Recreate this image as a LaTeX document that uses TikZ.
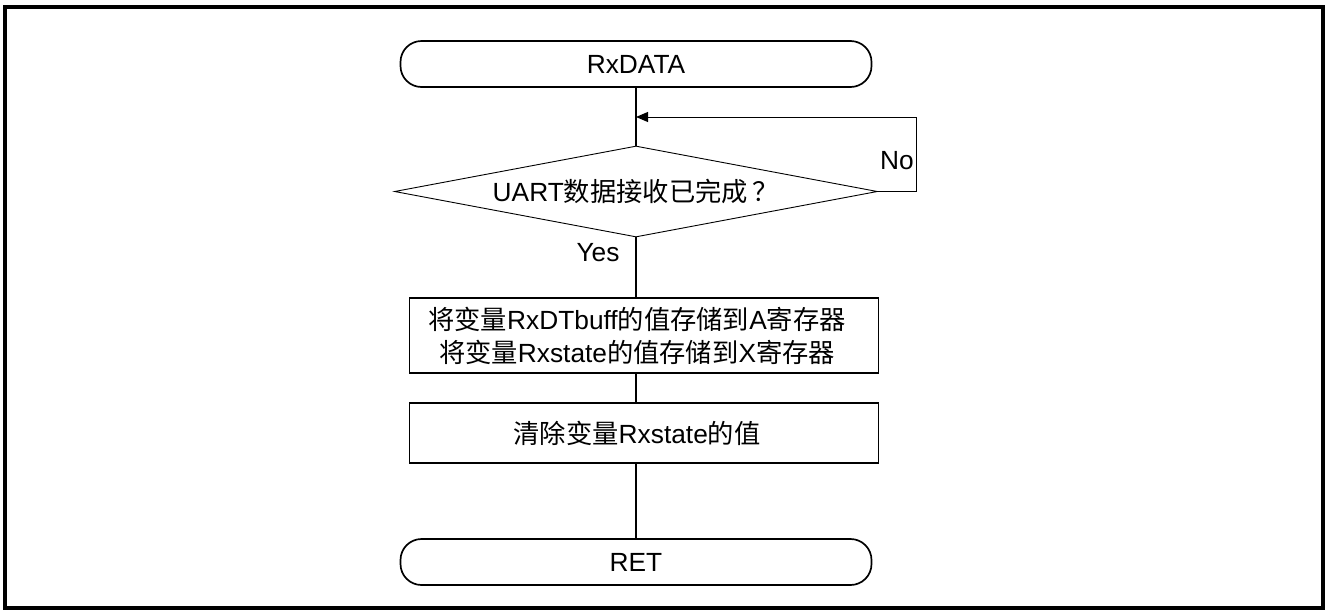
\documentclass[tikz,border=0pt]{standalone}
\usepackage{fontspec}
\setmainfont{Liberation Sans}
\newfontfamily\cjk{Noto Sans CJK SC}
\usetikzlibrary{shapes.geometric,arrows.meta}
\begin{document}
\begin{tikzpicture}[x=1pt,y=-1pt,
  font=\fontsize{26.3}{33}\selectfont,
  term/.style={draw, line width=1.7pt, rounded corners=21pt,
    minimum width=471pt, minimum height=46pt, inner sep=0pt},
  proc/.style={draw, line width=1.7pt, minimum width=469pt,
    inner sep=0pt, align=center},
  dec/.style={draw, line width=0.9pt, diamond, aspect=5.3,
    minimum width=483pt, minimum height=91pt, inner sep=0pt},
  flow/.style={line width=1.4pt},
  back/.style={line width=1pt, -{Triangle[length=12pt,width=10pt]}},
  lbl/.style={inner sep=0pt}]
\useasboundingbox (0,0) rectangle (1328,614);
% outer frame
\draw[line width=3.2pt] (5,7) rectangle (1323,608);

% nodes
\node[term] (start) at (636,64) {RxDATA};
\node[dec] (test) at (636,191.5) {UART{\cjk 数据接收已完成\kern5pt？}};
\node[proc, minimum height=75pt] (load) at (644,335.5)
  {\kern-14pt{\cjk 将变量}RxDTbuff{\cjk 的值存储到}A{\cjk 寄存器}\\
   \kern-14pt{\cjk 将变量}Rxstate{\cjk 的值存储到}X{\cjk 寄存器}};
\node[proc, minimum height=60pt] (clear) at (644,433)
  {\kern-14pt{\cjk 清除变量}Rxstate{\cjk 的值}};
\node[term] (ret) at (636,562) {RET};

% loop-back target and corner
\coordinate (merge) at (636,117);
\coordinate (loopc) at (916,117);

% connectors
\draw[flow] (start.south) -- (test.north);
\draw[back] (test.east) -| (loopc) -- (merge);
\draw[flow] (test.south) -- (test.south |- load.north);
\draw[flow] (test.south |- load.south) -- (test.south |- clear.north);
\draw[flow] (test.south |- clear.south) -- (ret.north);

% branch labels
\node[lbl] (no) at (897,161) {No};
\node[lbl] (yes) at (598,253) {Yes};
\end{tikzpicture}
\end{document}
